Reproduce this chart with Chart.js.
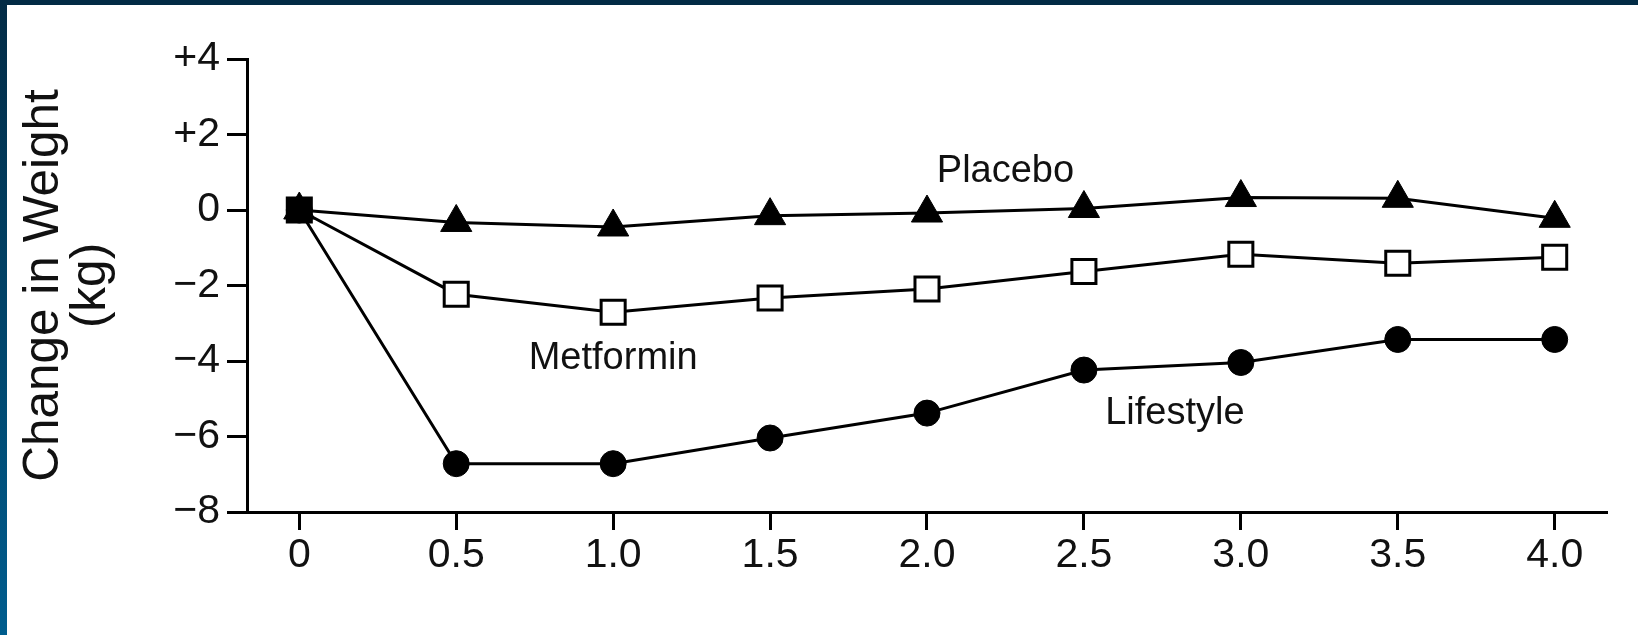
<!DOCTYPE html>
<html>
<head>
  <title>Change in Weight</title>
  <script src="https://cdn.jsdelivr.net/npm/chart.js"></script>
  <style>
    html, body { margin: 0; padding: 0; background: #fff; }
    #frame { position: relative; width: 1638px; height: 635px; overflow: hidden; background: #fff; }
    #topBar { position: absolute; left: 0; top: 0; width: 1638px; height: 5px; background: #022b45; }
    #leftBar { position: absolute; left: 0; top: 0; width: 7px; height: 635px; background: linear-gradient(to bottom, #022b45, #005d8e); }
    #weightChart { position: absolute; left: 7px; top: 5px; }
  </style>
</head>
<body>
  <div id="frame">
    <div id="topBar"></div>
    <div id="leftBar"></div>
    <canvas id="weightChart" width="1631" height="630"></canvas>
  </div>

  <script>
    // years since randomization
    var years = [0, 0.5, 1.0, 1.5, 2.0, 2.5, 3.0, 3.5, 4.0];
    var xTickLabels = ['0', '0.5', '1.0', '1.5', '2.0', '2.5', '3.0', '3.5', '4.0'];

    // change in weight (kg)
    var placebo   = [0, -0.33, -0.45, -0.15, -0.08, 0.04, 0.33, 0.31, -0.22];
    var metformin = [0, -2.23, -2.71, -2.33, -2.09, -1.63, -1.17, -1.41, -1.25];
    var lifestyle = [0, -6.72, -6.72, -6.04, -5.38, -4.24, -4.04, -3.43, -3.43];

    var yTickValues = [4, 2, 0, -2, -4, -6, -8];
    var yTickLabels = ['+4', '+2', '0', '\u22122', '\u22124', '\u22126', '\u22128'];

    // text labels next to the lines (x, baseline y in data units)
    var groupNames = ['Placebo', 'Metformin', 'Lifestyle'];
    var groupX = [2.25, 1.0, 2.79];
    var groupY = [0.75, -4.2, -5.66];

    function toPoints(values) {
      return years.map(function (yr, i) { return { x: yr, y: values[i] }; });
    }

    var groupLabelPlugin = {
      id: 'groupLabels',
      afterDatasetsDraw: function (chart) {
        var ctx = chart.ctx;
        var xs = chart.scales.x, ys = chart.scales.y;
        ctx.save();
        ctx.font = '38px "Liberation Sans", Arial, sans-serif';
        ctx.fillStyle = '#111';
        ctx.textAlign = 'center';
        ctx.textBaseline = 'alphabetic';
        for (var i = 0; i < groupNames.length; i++) {
          ctx.fillText(groupNames[i], xs.getPixelForValue(groupX[i]), ys.getPixelForValue(groupY[i]));
        }
        ctx.restore();
      }
    };

    var tickFont = { family: '"Liberation Sans", Arial, sans-serif', size: 41 };

    new Chart(document.getElementById('weightChart'), {
      type: 'line',
      data: {
        datasets: [
          {
            // first dataset is drawn on top, so the filled start square covers the rest
            label: 'Metformin',
            data: toPoints(metformin),
            borderColor: '#000',
            borderWidth: 3,
            pointStyle: 'rect',
            pointRadius: 17,
            pointBorderWidth: 3,
            pointBorderColor: '#000',
            pointBackgroundColor: years.map(function (yr) { return yr === 0 ? '#000' : '#fff'; })
          },
          {
            label: 'Placebo',
            data: toPoints(placebo),
            borderColor: '#000',
            borderWidth: 3,
            pointStyle: 'triangle',
            pointRadius: 18,
            pointBorderWidth: 1,
            pointBorderColor: '#000',
            pointBackgroundColor: '#000'
          },
          {
            label: 'Lifestyle',
            data: toPoints(lifestyle),
            borderColor: '#000',
            borderWidth: 3,
            pointStyle: 'circle',
            pointRadius: 13,
            pointBorderWidth: 1,
            pointBorderColor: '#000',
            pointBackgroundColor: '#000'
          }
        ]
      },
      options: {
        responsive: false,
        animation: false,
        events: [],
        layout: { padding: { left: 0, top: 54, right: 31, bottom: 0 } },
        plugins: {
          legend: { display: false },
          tooltip: { enabled: false }
        },
        elements: { line: { tension: 0 } },
        scales: {
          x: {
            type: 'linear',
            bounds: 'data',
            min: -1 / 6,
            max: 4 + 1 / 6,
            afterFit: function (scale) { scale.height = 123; },
            // ticks only at the measured years
            afterBuildTicks: function (scale) {
              scale.ticks = years.map(function (yr) { return { value: yr }; });
            },
            grid: { drawOnChartArea: false, drawTicks: true, tickLength: 18, tickWidth: 3, tickColor: '#000' },
            border: { display: true, width: 3, color: '#000' },
            ticks: {
              autoSkip: false,
              maxRotation: 0,
              padding: 1,
              color: '#111',
              font: tickFont,
              callback: function (value) {
                var i = years.indexOf(value);
                return i >= 0 ? xTickLabels[i] : '';
              }
            }
          },
          y: {
            type: 'linear',
            min: -8,
            max: 4,
            afterFit: function (scale) { scale.width = 240; },
            grid: { drawOnChartArea: false, drawTicks: true, tickLength: 20, tickWidth: 3, tickColor: '#000' },
            border: { display: true, width: 3, color: '#000' },
            ticks: {
              stepSize: 2,
              padding: 7,
              color: '#111',
              font: tickFont,
              callback: function (value) {
                var i = yTickValues.indexOf(value);
                return i >= 0 ? yTickLabels[i] : '';
              }
            },
            title: {
              display: true,
              text: ['Change in Weight', '(kg)'],
              color: '#111',
              font: { family: '"Liberation Sans", Arial, sans-serif', size: 49.5, lineHeight: 0.95 },
              padding: { top: 14, bottom: 0 }
            }
          }
        }
      },
      plugins: [groupLabelPlugin]
    });
  </script>
</body>
</html>
